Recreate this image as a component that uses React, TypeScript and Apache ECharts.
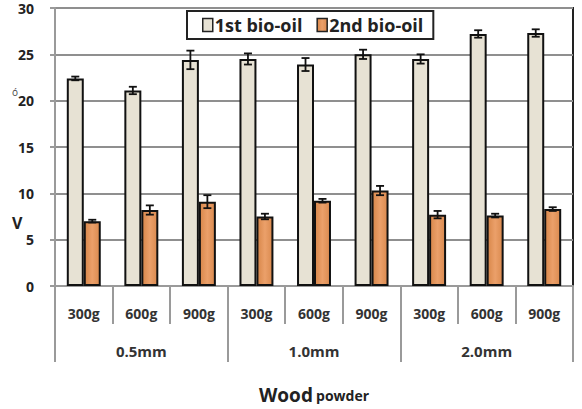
import React, { useEffect, useRef } from "react";
import * as echarts from "echarts";

const sizes = ["300g", "600g", "900g", "300g", "600g", "900g", "300g", "600g", "900g"];
const groups = ["0.5mm", "1.0mm", "2.0mm"];
const firstOil = [22.4, 21.1, 24.4, 24.5, 23.9, 25.0, 24.5, 27.2, 27.3];
const firstErr = [0.2, 0.4, 1.0, 0.6, 0.7, 0.5, 0.5, 0.4, 0.4];
const secondOil = [7.0, 8.2, 9.1, 7.5, 9.2, 10.3, 7.7, 7.6, 8.3];
const secondErr = [0.15, 0.5, 0.7, 0.3, 0.2, 0.5, 0.4, 0.2, 0.2];
const yTicks = { min: 0, max: 30, interval: 5 };

const FONT = "'Open Sans', 'Noto Sans', sans-serif";
const GAP_RATIO = 0.41;

function errData(vals: number[], errs: number[]) {
  return vals.map((v, i) => [i, v - errs[i], v + errs[i]]);
}

function makeErrRender(side: number) {
  return (params: any, api: any) => {
    const idx = api.value(0);
    const lo = api.value(1);
    const hi = api.value(2);
    const band = api.size([1, 0])[0];
    const w = (band * (1 - GAP_RATIO)) / 2;
    const top = api.coord([idx, hi]);
    const bot = api.coord([idx, lo]);
    const x = top[0] + (side * w) / 2;
    const cap = 4;
    const style = { stroke: "#111", lineWidth: 1.8 };
    return {
      type: "group",
      children: [
        { type: "line", shape: { x1: x, y1: top[1], x2: x, y2: bot[1] }, style },
        { type: "line", shape: { x1: x - cap, y1: top[1], x2: x + cap, y2: top[1] }, style },
        { type: "line", shape: { x1: x - cap, y1: bot[1], x2: x + cap, y2: bot[1] }, style },
      ],
    };
  };
}

export default function App() {
  const ref = useRef<HTMLDivElement>(null);
  useEffect(() => {
    if (!ref.current) return;
    const chart = echarts.init(ref.current, null, { renderer: "svg" });
    const orange = new echarts.graphic.LinearGradient(0, 0, 1, 0, [
      { offset: 0, color: "#d8874a" },
      { offset: 0.5, color: "#eba06a" },
      { offset: 1, color: "#da8a4f" },
    ]);
    chart.setOption({
      animation: false,
      backgroundColor: "#ffffff",
      textStyle: { fontFamily: FONT },
      grid: {
        left: 55,
        right: 9,
        top: 8,
        bottom: 123,
        outerBoundsMode: "none",
        containLabel: false,
        show: true,
        borderColor: "#222",
        borderWidth: 2,
        backgroundColor: "transparent",
      },
      legend: {
        data: ["1st bio-oil", "2nd bio-oil"],
        left: 187,
        top: 11,
        padding: [5, 10, 5, 15],
        borderColor: "#222",
        borderWidth: 2,
        itemWidth: 10,
        itemHeight: 13,
        itemGap: 14,
        icon: "rect",
        itemStyle: { borderColor: "#222", borderWidth: 1.5 },
        textStyle: { fontFamily: FONT, fontWeight: "bold", fontSize: 18, color: "#222", padding: [0, 0, 0, -3] },
      },
      xAxis: [
        {
          type: "category",
          data: sizes,
          position: "bottom",
          axisLine: { show: true, lineStyle: { color: "#9a9a9a", width: 2 } },
          axisTick: { show: true, interval: 0, length: 38, lineStyle: { color: "#9a9a9a", width: 2 } },
          axisLabel: { interval: 0, margin: 20, fontFamily: FONT, fontWeight: "bold", fontSize: 14, color: "#333" },
          splitLine: { show: false },
        },
        {
          type: "category",
          data: groups,
          position: "bottom",
          axisLine: { show: false },
          axisTick: { show: true, interval: 0, length: 76, lineStyle: { color: "#9a9a9a", width: 2 } },
          axisLabel: { interval: 0, margin: 57, fontFamily: FONT, fontWeight: "bold", fontSize: 15, color: "#333" },
          splitLine: { show: false },
          name: "{a|Wood} {b|powder}",
          nameLocation: "middle",
          nameGap: 98,
          nameTextStyle: {
            rich: {
              a: { fontFamily: FONT, fontWeight: "bold", fontSize: 19, lineHeight: 20, color: "#222", verticalAlign: "bottom" },
              b: { fontFamily: FONT, fontWeight: "bold", fontSize: 14, lineHeight: 16, color: "#222", verticalAlign: "bottom", padding: [0, 0, 2, 0] },
            },
          },
        },
      ],
      yAxis: {
        type: "value",
        min: yTicks.min,
        max: yTicks.max,
        interval: yTicks.interval,
        axisLine: { show: true, lineStyle: { color: "#9a9a9a", width: 2 } },
        axisTick: { show: true, length: 5, lineStyle: { color: "#9a9a9a", width: 2 } },
        axisLabel: { margin: 21, fontFamily: FONT, fontWeight: "bold", fontSize: 14, color: "#222" },
        splitLine: { show: true, lineStyle: { color: "#8f8f8f", width: 2 } },
      },
      graphic: [
        { type: "text", left: 12, top: 215, style: { text: "V", fontFamily: FONT, fontWeight: "bold", fontSize: 16, fill: "#222" } },
        { type: "text", left: 12, top: 87, style: { text: "ó", fontFamily: FONT, fontSize: 10, fill: "#444" } },
      ],
      series: [
        {
          name: "1st bio-oil",
          type: "bar",
          xAxisIndex: 0,
          data: firstOil,
          barGap: "0%",
          barCategoryGap: GAP_RATIO * 100 + "%",
          itemStyle: { color: "#e7e2d4", borderColor: "#111", borderWidth: 2 },
        },
        {
          name: "2nd bio-oil",
          type: "bar",
          xAxisIndex: 0,
          data: secondOil,
          barGap: "0%",
          barCategoryGap: GAP_RATIO * 100 + "%",
          itemStyle: { color: orange, borderColor: "#111", borderWidth: 2 },
        },
        {
          name: "err1",
          type: "custom",
          xAxisIndex: 0,
          data: errData(firstOil, firstErr),
          encode: { x: 0, y: [1, 2] },
          renderItem: makeErrRender(-1),
          z: 5,
        },
        {
          name: "err2",
          type: "custom",
          xAxisIndex: 0,
          data: errData(secondOil, secondErr),
          encode: { x: 0, y: [1, 2] },
          renderItem: makeErrRender(1),
          z: 5,
        },
      ],
    });
    return () => chart.dispose();
  }, []);
  return (
    <div
      ref={ref}
      style={{ position: "fixed", left: 0, top: 0, width: 582, height: 409 }}
    />
  );
}
